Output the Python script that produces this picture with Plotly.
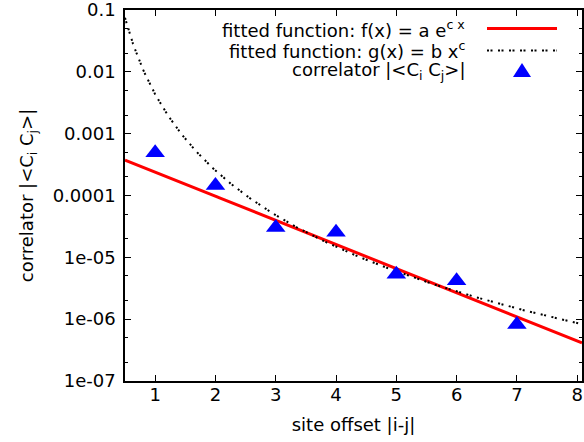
import numpy as np
import plotly.graph_objects as go

site_offset = [1, 2, 3, 4, 5, 6, 7]
correlator = [4.9e-4, 1.45e-4, 3.05e-5, 2.55e-5, 5.35e-6, 4.2e-6, 8.2e-7]

# fitted parameters
exp_a = 5.86e-4
exp_c = -0.898
pow_b = 4.35e-3
pow_c = -4.1

x_ticks = [1, 2, 3, 4, 5, 6, 7, 8]
y_tickvals = [1e-1, 1e-2, 1e-3, 1e-4, 1e-5, 1e-6, 1e-7]
y_ticktext = ["0.1", "0.01", "0.001", "0.0001", "1e-05", "1e-06", "1e-07"]
y_minor = [m * 10.0 ** k for k in range(-7, -1) for m in (2, 5)]

x_min, x_max = 0.5, 8.08
xs = np.linspace(x_min, x_max, 400)
f_vals = exp_a * np.exp(exp_c * xs)
g_vals = pow_b * xs ** pow_c

FONT = "DejaVu Sans, Liberation Sans, Arial, sans-serif"
FS = 18
DOT = "2px,1.5px,2px,5.5px"

# plot area should sit at x 125..582, y 10..381 of the 584x442 page
L, T, R, B = 125, 10, 584 - 582, 442 - 381
PW, PH = 582 - 125, 381 - 10

fig = go.Figure()
fig.add_trace(go.Scatter(x=xs, y=f_vals, mode="lines",
                         line=dict(color="#ff0000", width=3), showlegend=False, hoverinfo="skip"))
fig.add_trace(go.Scatter(x=xs, y=g_vals, mode="lines",
                         line=dict(color="#000000", width=2, dash=DOT), showlegend=False, hoverinfo="skip"))
fig.add_trace(go.Scatter(x=site_offset, y=correlator, mode="markers",
                         marker=dict(symbol="triangle-up", size=17, color="#0000ff", line=dict(width=0)),
                         showlegend=False))


def px(p):
    return (p - 125) / PW


def py(p):
    return (381 - p) / PH


# manual legend (text right-aligned, sample on the right, as in gnuplot)
legend_rows = [
    ("fitted function: f(x) = a e<sup>c x</sup>", 28.5),
    ("fitted function: g(x) = b x<sup>c</sup>", 50),
    ("correlator |&lt;C<sub>i</sub> C<sub>j</sub>&gt;|", 71),
]
for txt, yy in legend_rows:
    fig.add_annotation(xref="paper", yref="paper", x=px(467), y=py(yy),
                       text=txt, showarrow=False, xanchor="right", yanchor="middle",
                       font=dict(family=FONT, size=FS, color="black"))

fig.add_shape(type="line", xref="paper", yref="paper",
              x0=px(487), x1=px(557), y0=py(28.5), y1=py(28.5),
              line=dict(color="#ff0000", width=3))
fig.add_shape(type="line", xref="paper", yref="paper",
              x0=px(487), x1=px(557), y0=py(50.5), y1=py(50.5),
              line=dict(color="#000000", width=2, dash=DOT))
cx, cy = 522, 71
tri = f"M {px(cx-9)} {py(cy+6)} L {px(cx+9)} {py(cy+6)} L {px(cx)} {py(cy-8)} Z"
fig.add_shape(type="path", xref="paper", yref="paper", path=tri,
              fillcolor="#0000ff", line=dict(width=0))

axis_common = dict(showline=True, linecolor="black", linewidth=1.5, mirror="allticks",
                   ticks="inside", ticklen=6, tickwidth=1, tickcolor="black",
                   showgrid=False, zeroline=False, automargin=False,
                   ticklabeloverflow="allow",
                   tickfont=dict(family=FONT, size=FS, color="black"),
                   title_font=dict(family=FONT, size=FS, color="black"))

fig.update_xaxes(range=[x_min, x_max], tickmode="array", tickvals=x_ticks,
                 ticklabelstandoff=-3,
                 title_text="site offset |i-j|", title_standoff=14, **axis_common)
fig.update_yaxes(type="log", range=[-7, -1], tickmode="array", tickvals=y_tickvals,
                 ticktext=y_ticktext, ticklabelstandoff=4,
                 minor=dict(tickmode="array", tickvals=y_minor, ticks="inside",
                            ticklen=3, tickcolor="black"),
                 title_text="correlator |&lt;C<sub>i</sub> C<sub>j</sub>&gt;|",
                 title_standoff=14, **axis_common)

fig.update_layout(width=584, height=442, margin=dict(l=L, r=R, t=T, b=B),
                  plot_bgcolor="white", paper_bgcolor="white",
                  font=dict(family=FONT, size=FS, color="black"))

fig.write_html("out.html", config={"displayModeBar": False},
               post_script="document.body.style.margin='0';")
